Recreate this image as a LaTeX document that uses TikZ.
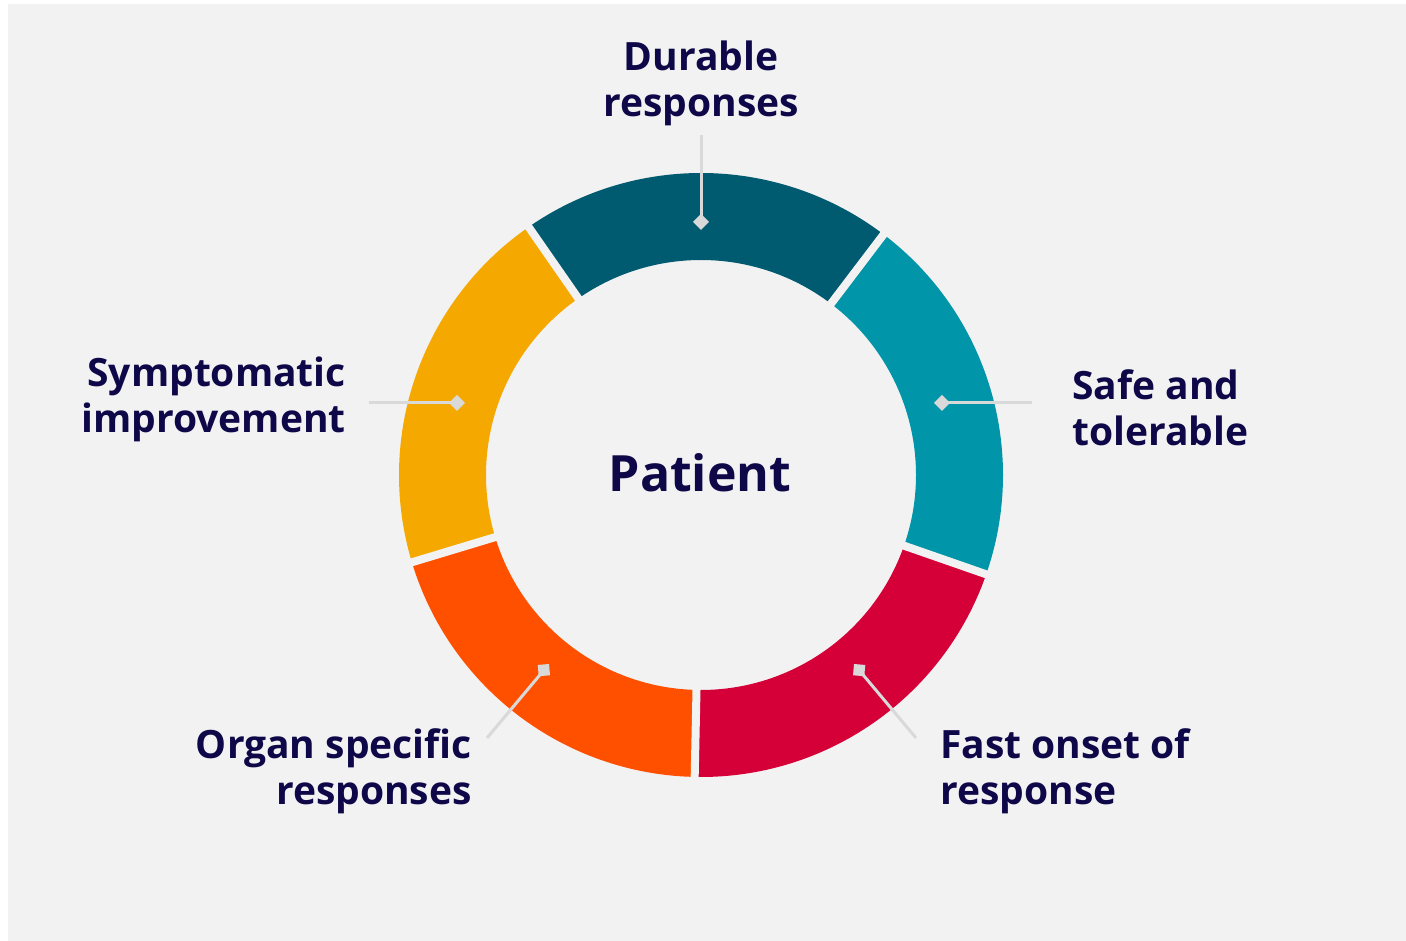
\documentclass[tikz,border=0pt]{standalone}
\usepackage{fontspec}
\setmainfont{Open Sans}
\usetikzlibrary{arrows.meta}
\definecolor{bggray}{RGB}{242,242,242}
\definecolor{linegray}{RGB}{217,217,217}
\definecolor{navy}{RGB}{14,8,72}
\definecolor{darkteal}{RGB}{0,90,112}
\definecolor{tealc}{RGB}{0,149,168}
\definecolor{yellowc}{RGB}{245,168,0}
\definecolor{orangec}{RGB}{255,80,0}
\definecolor{redc}{RGB}{213,0,55}
\begin{document}
\begin{tikzpicture}[x=1pt,y=1pt,
  label/.style={text=navy,font=\fontsize{39}{46}\selectfont\bfseries,inner sep=0pt},
  leader/.style={draw=linegray,line width=3pt,-{Diamond[length=16pt,width=16pt,fill=linegray]}},
  gapline/.style={draw=bggray,line width=8pt}]
\useasboundingbox (0,0) rectangle (1406,941);
\fill[white] (0,0) rectangle (1406,941);
\fill[bggray] (8,0) rectangle (1406,937);
% ring
\coordinate (ctr) at (701,466);
\begin{scope}[shift={(ctr)}]
  \foreach \a/\b/\c in {52.8/124.8/darkteal,124.8/196.8/yellowc,196.8/268.8/orangec,268.8/340.8/redc,340.8/412.8/tealc}{
    \fill[\c] (\a:302) arc[start angle=\a,end angle=\b,radius=302] -- (\b:215) arc[start angle=\b,end angle=\a,radius=215] -- cycle;
  }
  \foreach \g in {52.8,124.8,196.8,268.8,340.8}{
    \draw[gapline] (\g:205) -- (\g:312);
  }
\end{scope}
% center label
\node[text=navy,font=\fontsize{50}{58}\selectfont\bfseries,inner sep=0pt,anchor=base] (patient) at (700,449) {Patient};
% labels
\node[label,align=center,anchor=north] (durable) at (701,900) {Durable\\responses};
\node[label,align=left,anchor=north west] (safe) at (1072,572) {Safe and\\tolerable};
\node[label,align=right,anchor=north east] (sympt) at (346,584) {Symptomatic\\improvement};
\node[label,align=right,anchor=north east] (organ) at (472,213) {Organ specific\\responses};
\node[label,align=left,anchor=north west] (fast) at (940,213) {Fast onset of\\response};
% leader coordinates
\coordinate (durA) at (701,806);
\coordinate (durM) at (701,711);
\coordinate (safeA) at (1032,538);
\coordinate (safeM) at (934,538);
\coordinate (symA) at (369,538);
\coordinate (symM) at (465,538);
\coordinate (orgA) at (487,203);
\coordinate (orgM) at (549,277);
\coordinate (fastA) at (916,203);
\coordinate (fastM) at (854,277);
\draw[leader] (durA) -- (durM);
\draw[leader] (safeA) -- (safeM);
\draw[leader] (symA) -- (symM);
\draw[leader] (orgA) -- (orgM);
\draw[leader] (fastA) -- (fastM);
\end{tikzpicture}
\end{document}
